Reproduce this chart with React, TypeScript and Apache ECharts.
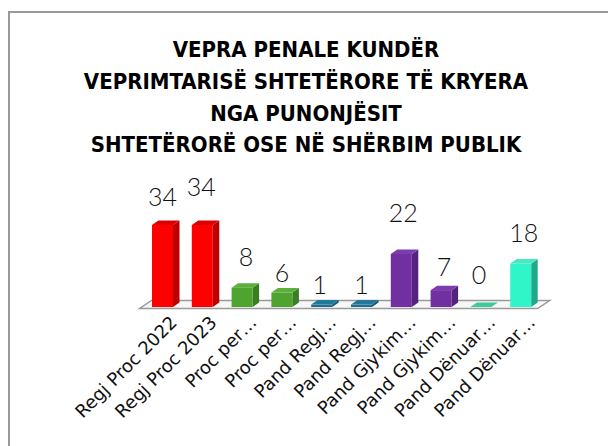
import React, { useEffect, useRef } from "react";
import * as echarts from "echarts";

const TITLE_LINES = [
  "VEPRA PENALE KUNDËR",
  "VEPRIMTARISË SHTETËRORE TË KRYERA",
  "NGA PUNONJËSIT",
  "SHTETËRORË OSE NË SHËRBIM PUBLIK",
];
const CATEGORIES = [
  "Regj Proc 2022",
  "Regj Proc 2023",
  "Proc per…",
  "Proc per…",
  "Pand Regj…",
  "Pand Regj…",
  "Pand Gjykim…",
  "Pand Gjykim…",
  "Pand Dënuar…",
  "Pand Dënuar…",
];
const VALUES = [34, 34, 8, 6, 1, 1, 22, 7, 0, 18];

// styling (not data)
const RED = { front: "#FF0000", side: "#BE0000", top: "#DD0000" };
const GREEN = { front: "#4FA32F", side: "#3A7D22", top: "#5AB038" };
const TEAL = { front: "#1E6F8F", side: "#155670", top: "#22789A" };
const PURPLE = { front: "#7030A0", side: "#55227D", top: "#7C3BAE" };
const MINT = { front: "#3CCB9E", side: "#2AA07C", top: "#3CC99C" };
const AQUA = { front: "#30F5C8", side: "#1FA98A", top: "#48E8C2" };
const BAR_STYLES = [RED, RED, GREEN, GREEN, TEAL, TEAL, PURPLE, PURPLE, MINT, AQUA];
const LABEL_LIFT = [24.5, 34.5, 27.7, 16, 16, 16, 37.8, 19.8, 28.5, 26.8];
const LABEL_SHIFT = [0, -1, 4, 0, -2, 0, 2, 3, -2, 3];

export default function App() {
  const ref = useRef<HTMLDivElement>(null);
  useEffect(() => {
    if (!ref.current) return;
    const chart = echarts.init(ref.current, undefined, { renderer: "svg" });
    const HW = 10.5, DX = 6.5, DY = 4.5;
    chart.setOption({
      animation: false,
      backgroundColor: "#ffffff",
      title: {
        text: TITLE_LINES.join("\n"),
        left: 306,
        top: 34,
        textAlign: "center",
        padding: 0,
        textStyle: {
          fontFamily: "'DejaVu Sans Condensed', 'Liberation Sans', sans-serif",
          fontWeight: "bold",
          fontSize: 22,
          lineHeight: 31.7,
          color: "#000",
        },
      },
      graphic: [
        {
          type: "rect",
          shape: { x: 9, y: 12, width: 700, height: 500 },
          style: { fill: "none", stroke: "#999", lineWidth: 2 },
          silent: true,
        },
      ],
      grid: { left: 142.6, width: 398, top: 210.6, height: 96.4 },
      xAxis: { type: "category", data: CATEGORIES, show: false },
      yAxis: { type: "value", min: 0, max: 40, show: false },
      series: [
        {
          type: "custom",
          silent: true,
          z: 1,
          data: [[0, 0]],
          renderItem: (params: any) => {
            const cs = params.coordSys;
            const fy = cs.y + cs.height + 1.5;
            const by = fy - 8;
            const l = cs.x - 3;
            const r = cs.x + cs.width - 3;
            return {
              type: "polygon",
              shape: { points: [[l, fy], [r, fy], [r + 12, by], [l + 12, by]] },
              style: { fill: "#f7f7f7", stroke: "#9a9a9a", lineWidth: 1.5 },
            };
          },
        },
        {
          type: "custom",
          silent: true,
          z: 2,
          data: VALUES.map((v, i) => [i, v]),
          encode: { x: 0, y: 1 },
          renderItem: (params: any, api: any) => {
            const i = api.value(0);
            const v = api.value(1);
            const b = api.coord([i, 0]);
            const t = api.coord([i, v]);
            const cx = b[0], by = b[1], ty = t[1];
            const x0 = cx - HW, x1 = cx + HW;
            const c = BAR_STYLES[i];
            return {
              type: "group",
              children: [
                {
                  type: "polygon",
                  shape: { points: [[x1, ty], [x1 + DX, ty - DY], [x1 + DX, by - DY], [x1, by]] },
                  style: { fill: c.side },
                },
                {
                  type: "polygon",
                  shape: { points: [[x0, ty], [x0 + DX, ty - DY], [x1 + DX, ty - DY], [x1, ty]] },
                  style: { fill: c.top },
                },
                {
                  type: "rect",
                  shape: { x: x0, y: ty, width: 2 * HW, height: by - ty },
                  style: { fill: c.front },
                },
                {
                  type: "text",
                  x: cx + LABEL_SHIFT[i],
                  y: ty - DY - LABEL_LIFT[i],
                  style: {
                    text: String(v),
                    fill: "#111",
                    fontSize: 25,
                    fontWeight: 300,
                    fontFamily: "Lato, 'Liberation Sans', sans-serif",
                    align: "center",
                    verticalAlign: "middle",
                  },
                },
                {
                  type: "text",
                  x: cx + 11,
                  y: by + 12,
                  rotation: Math.PI / 4,
                  style: {
                    text: CATEGORIES[i],
                    fill: "#111",
                    fontSize: 18,
                    fontFamily: "'DejaVu Sans', sans-serif",
                    align: "right",
                    verticalAlign: "middle",
                  },
                },
              ],
            };
          },
        },
      ],
    });
    return () => chart.dispose();
  }, []);
  return (
    <div
      ref={ref}
      style={{ position: "fixed", left: 0, top: 0, width: 608, height: 446, background: "#fff" }}
    />
  );
}
